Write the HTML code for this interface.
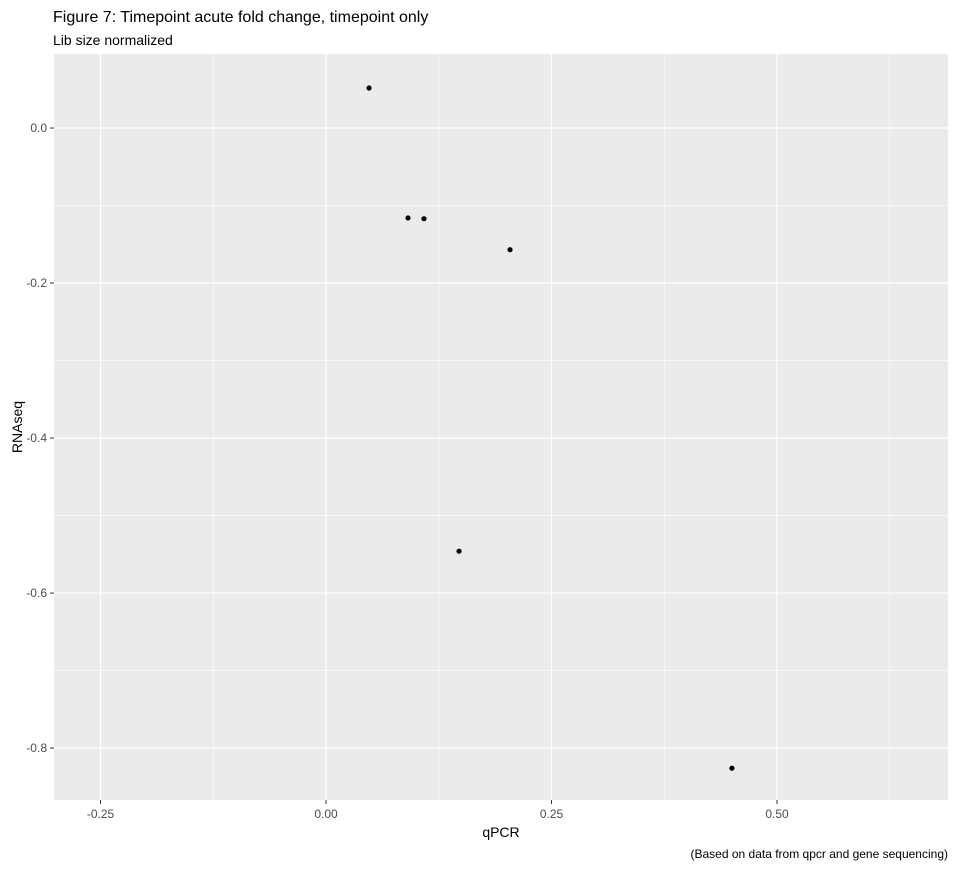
<!DOCTYPE html>
<html><head><meta charset="utf-8">
<style>
body{margin:0;background:#fff;font-family:"Liberation Sans",Arial,sans-serif;}
svg text{font-family:"Liberation Sans",Arial,sans-serif;}
</style></head>
<body>
<svg id="chart" width="956" height="866" xmlns="http://www.w3.org/2000/svg">
<rect width="956" height="866" fill="#fff"/>
<text x="53" y="22" font-size="16" fill="#000">Figure 7: Timepoint acute fold change, timepoint only</text>
<text x="53" y="45" font-size="14" fill="#000">Lib size normalized</text>
<rect x="54" y="54" width="894" height="746" fill="#ebebeb"/>
<g id="grid"></g>
<g id="xticks"></g>
<g id="yticks"></g>
<g id="points"></g>
<text x="501" y="837" font-size="14" text-anchor="middle" fill="#000">qPCR</text>
<text transform="translate(22,427) rotate(-90)" font-size="14" text-anchor="middle" fill="#000">RNAseq</text>
<text x="948" y="858" font-size="12" text-anchor="end" fill="#000">(Based on data from qpcr and gene sequencing)</text>
</svg>
<script>
const qpcr = [0.0477, 0.0909, 0.1086, 0.204, 0.1475, 0.450];
const rnaseq = [0.0516, -0.116, -0.117, -0.157, -0.546, -0.826];
const xTicks = [-0.25, 0, 0.25, 0.5];
const xTickLabels = ["-0.25", "0.00", "0.25", "0.50"];
const yTicks = [0, -0.2, -0.4, -0.6, -0.8];
const yTickLabels = ["0.0", "-0.2", "-0.4", "-0.6", "-0.8"];

const L=54,R=948,T=54,B=800;
const xMin=-0.3016,xMax=0.6896,yMin=-0.867,yMax=0.0955;
const sx=v=>L+(v-xMin)/(xMax-xMin)*(R-L);
const sy=v=>B-(v-yMin)/(yMax-yMin)*(B-T);
const NS="http://www.w3.org/2000/svg";
function mk(tag,attrs,parent){const e=document.createElementNS(NS,tag);for(const k in attrs)e.setAttribute(k,attrs[k]);document.getElementById(parent).appendChild(e);return e;}

const minorX=[-0.375,-0.125,0.125,0.375,0.625];
minorX.forEach(v=>{if(sx(v)>L&&sx(v)<R){const l=mk('line',{x1:sx(v),x2:sx(v),y1:T,y2:B,stroke:'#fff','stroke-width':0.6},'grid');

}});
const minorY=[0.1,-0.1,-0.3,-0.5,-0.7];
minorY.forEach(v=>{if(sy(v)>T&&sy(v)<B){const l=mk('line',{x1:L,x2:R,y1:sy(v),y2:sy(v),stroke:'#fff','stroke-width':0.6},'grid');

}});
xTicks.forEach((v,i)=>{
 const l=mk('line',{x1:sx(v),x2:sx(v),y1:T,y2:B,stroke:'#fff','stroke-width':1.2},'grid');
 
 
 mk('line',{x1:sx(v),x2:sx(v),y1:B,y2:B+4,stroke:'#333','stroke-width':1},'xticks');
 const t=mk('text',{x:sx(v),y:B+18,'font-size':12,'text-anchor':'middle',fill:'#4d4d4d'},'xticks');
 t.textContent=xTickLabels[i];
 
 
});
yTicks.forEach((v,i)=>{
 const l=mk('line',{x1:L,x2:R,y1:sy(v),y2:sy(v),stroke:'#fff','stroke-width':1.2},'grid');
 
 
 mk('line',{x1:L-4,x2:L,y1:sy(v),y2:sy(v),stroke:'#333','stroke-width':1},'yticks');
 const t=mk('text',{x:L-7,y:sy(v)+4,'font-size':12,'text-anchor':'end',fill:'#4d4d4d'},'yticks');
 t.textContent=yTickLabels[i];
 
 
});
qpcr.forEach((v,i)=>{
 const c=mk('circle',{cx:sx(v),cy:sy(rnaseq[i]),r:2.6,fill:'#000'},'points');
 
 
});
</script>
</body></html>
